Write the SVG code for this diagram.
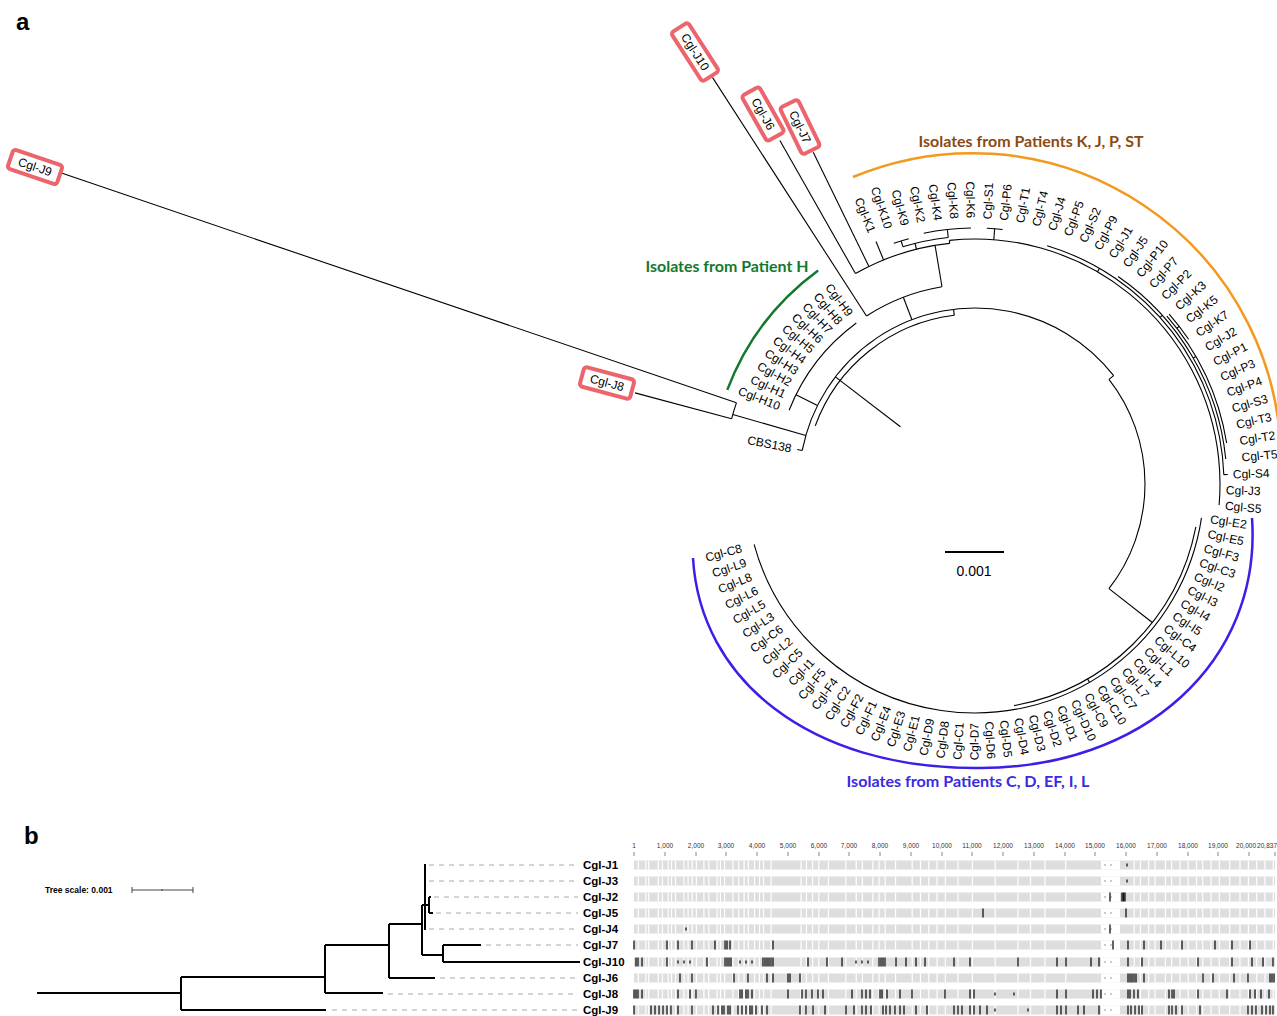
<svg xmlns="http://www.w3.org/2000/svg" width="1277" height="1016" viewBox="0 0 1277 1016">
<defs>
<style>
.lb{font-family:"Liberation Sans",Arial,sans-serif;font-size:12px;fill:#000}
.e{text-anchor:end}
.t line,.t circle{fill:none;stroke:#000;stroke-width:1.1}
.jb rect{fill:#fff;stroke:#ec646c;stroke-width:4}
.jb text{font-family:"Liberation Sans",Arial,sans-serif;font-size:12px;text-anchor:middle}
.ttl{font-family:Lato,"Open Sans",sans-serif;font-weight:bold;font-size:15px;text-anchor:middle}
.bt{stroke:#000;stroke-width:2;fill:none}
.dl{stroke:#aaa;stroke-width:1;stroke-dasharray:5 5;fill:none}
.bl{font-family:"Liberation Sans",Arial,sans-serif;font-weight:bold;font-size:11.5px}
.ax{font-family:"Liberation Sans Narrow","Liberation Sans",sans-serif;font-size:6.5px;fill:#333;text-anchor:middle}
.pl{font-family:"Liberation Sans",Arial,sans-serif;font-weight:bold;font-size:24px}
.bar{fill:#dedede}
.mk{stroke:#111;stroke-width:1.3;fill:none}
</style>
<path id="gp" d="M638.3 0v9M645.8 0v9M648.7 0v9M658.2 0v9M662.4 0v9M668.2 0v9M671.5 0v9M675.6 0v9M684 0v9M688.1 0v9M692.2 0v9M696.4 0v9M703.9 0v9M708.8 0v9M717.1 0v9M720.5 0v9M724.6 0v9M732.9 0v9M738.7 0v9M744.1 0v9M748.3 0v9M754.5 0v9M759.5 0v9M763.6 0v9M771.1 0v9M801 0v9M806.4 0v9M812.6 0v9M818.8 0v9M828.4 0v9M845.8 0v9M856.2 0v9M862.4 0v9M872.8 0v9M879 0v9M885.2 0v9M895.6 0v9M912.2 0v9M920.5 0v9M928.8 0v9M937.1 0v9M945.4 0v9M957.9 0v9M972.4 0v9M995.2 0v9M1018 0v9M1030.5 0v9M1045 0v9M1065.7 0v9M1134.2 0v9M1140.4 0v9M1148.7 0v9M1155 0v9M1165.4 0v9M1171.6 0v9M1179.9 0v9M1188.2 0v9M1196.5 0v9M1202.7 0v9M1211 0v9M1219.3 0v9M1229.7 0v9M1240 0v9M1248.4 0v9M1256.7 0v9M1265 0v9M1273.3 0v9" stroke="#fff" stroke-width="1.2" fill="none"/>
<g id="rowbase"><rect class="bar" x="634" y="0" width="641" height="9"/><use href="#gp"/><rect x="1101" y="0" width="19" height="9" fill="#fff"/><path d="M1104 4.5h2M1110 4.5h2" stroke="#bbb" stroke-width="1.5"/></g>
</defs>
<rect width="1277" height="1016" fill="#fff"/>

<text class="pl" x="16" y="30">a</text>
<text class="pl" x="24" y="844">b</text>

<!-- cluster arcs and titles -->
<g id="cluster-KJPST">
<path d="M853 177A309 309 0 0 1 1281 462" fill="none" stroke="#f39a1e" stroke-width="2.5"/>
<text class="ttl" x="1031" y="147" fill="#8c4a10" textLength="225" lengthAdjust="spacingAndGlyphs">Isolates from Patients K, J, P, ST</text>
</g>
<g id="cluster-H">
<circle cx="975" cy="484" r="265" pathLength="360" stroke-dasharray="32.9 400" transform="rotate(200.8 975 484)" fill="none" stroke="#13782c" stroke-width="2.5"/>
<text class="ttl" x="727" y="272" fill="#13782c" textLength="163" lengthAdjust="spacingAndGlyphs">Isolates from Patient H</text>
</g>
<g id="cluster-CDEFIL">
<path d="M1252 518C1262 660 1145 770 975 768C810 768 700 680 693 558" fill="none" stroke="#3a1fe8" stroke-width="2.5"/>
<text class="ttl" x="968" y="787" fill="#3a2ae0" textLength="243" lengthAdjust="spacingAndGlyphs">Isolates from Patients C, D, EF, I, L</text>
</g>

<!-- circular tree connectors -->
<g id="connectors" class="t" transform="translate(975,484)">
<line x1="94" x2="176" transform="rotate(217.5)"/>
<circle r="176" pathLength="360" stroke-dasharray="131 400" transform="rotate(191)"/>
<circle r="170" pathLength="360" stroke-dasharray="63 400" transform="rotate(200)"/>
<line x1="170" x2="176" transform="rotate(263)"/>
<circle r="170" pathLength="360" stroke-dasharray="76 400" transform="rotate(322)"/>
<line x1="170" x2="176" transform="rotate(322)"/>
<line x1="176" x2="181" transform="rotate(191)"/>
<line x1="176" x2="252" transform="rotate(196)"/>
<circle r="252" pathLength="360" stroke-dasharray="3.8 400" transform="rotate(195)"/>
<line x1="252" x2="352" transform="rotate(195)"/>
<line x1="252" x2="965" transform="rotate(198.8)"/>
<line x1="176" x2="200" transform="rotate(206.5)"/>
<circle r="200" pathLength="360" stroke-dasharray="31.95 400" transform="rotate(201.65)"/>
<line x1="176" x2="200" transform="rotate(249)"/>
<circle r="200" pathLength="360" stroke-dasharray="23.35 400" transform="rotate(237.15)"/>
<line x1="200" x2="484" transform="rotate(237.15)"/>
<line x1="200" x2="242" transform="rotate(260.5)"/>
<circle r="242" pathLength="360" stroke-dasharray="23.6 400" transform="rotate(240.4)"/>
<line x1="242" x2="395" transform="rotate(240.4)"/>
<line x1="242" x2="369" transform="rotate(244)"/>
<line x1="242" x2="262" transform="rotate(247.8)"/>
<line x1="242" x2="248" transform="rotate(256)"/>
<circle r="248" pathLength="360" stroke-dasharray="10.7 400" transform="rotate(253.1)"/>
<line x1="248" x2="254" transform="rotate(253.1)"/>
<circle r="254" pathLength="360" stroke-dasharray="3.55 400" transform="rotate(251.35)"/>
<line x1="248" x2="256" transform="rotate(263.8)"/>
<circle r="256" pathLength="360" stroke-dasharray="10.65 400" transform="rotate(258.45)"/>
<line x1="242" x2="245" transform="rotate(264)"/>
<circle r="245" pathLength="360" stroke-dasharray="100.95 400" transform="rotate(264)"/>
<line x1="245" x2="256" transform="rotate(274.4)"/>
<circle r="256" pathLength="360" stroke-dasharray="3.55 400" transform="rotate(272.65)"/>
<line x1="245" x2="249" transform="rotate(300)"/>
<circle r="249" pathLength="360" stroke-dasharray="71 400" transform="rotate(286.85)"/>
<line x1="249" x2="252" transform="rotate(318)"/>
<circle r="252" pathLength="360" stroke-dasharray="49.7 400" transform="rotate(304.6)"/>
<line x1="252" x2="255" transform="rotate(330)"/>
<circle r="255" pathLength="360" stroke-dasharray="31.95 400" transform="rotate(318.8)"/>
<line x1="255" x2="258" transform="rotate(322.35)"/>
<circle r="258" pathLength="360" stroke-dasharray="7.1 400" transform="rotate(318.8)"/>
<line x1="249" x2="253" transform="rotate(357.85)"/>
<line x1="170" x2="225" transform="rotate(38)"/>
<circle r="225" pathLength="360" stroke-dasharray="69 400" transform="rotate(11)"/>
<line x1="225" x2="229" transform="rotate(60)"/>
<circle r="229" pathLength="360" stroke-dasharray="156.2 400" transform="rotate(8.5)"/>
</g>

<!-- scale bar -->
<g id="scale-a">
<line x1="945" y1="552" x2="1004" y2="552" stroke="#000" stroke-width="2"/>
<text x="974" y="576" font-family="Liberation Sans,Arial,sans-serif" font-size="14" text-anchor="middle">0.001</text>
</g>

<!-- boxed outlier isolates -->
<g id="n-Cgl-J9" class="jb" transform="translate(35,167) rotate(18.6)"><rect x="-26" y="-10" width="52" height="20" rx="3"/><text y="4">Cgl-J9</text></g>
<g id="n-Cgl-J8" class="jb" transform="translate(607,383) rotate(15)"><rect x="-26" y="-10" width="52" height="20" rx="3"/><text y="4">Cgl-J8</text></g>
<g id="n-Cgl-J10" class="jb" transform="translate(695,52) rotate(57.2)"><rect x="-29" y="-10" width="58" height="20" rx="3"/><text y="4">Cgl-J10</text></g>
<g id="n-Cgl-J6" class="jb" transform="translate(763,114) rotate(60.4)"><rect x="-26" y="-10" width="52" height="20" rx="3"/><text y="4">Cgl-J6</text></g>
<g id="n-Cgl-J7" class="jb" transform="translate(800,127) rotate(64)"><rect x="-26" y="-10" width="52" height="20" rx="3"/><text y="4">Cgl-J7</text></g>

<!-- tip labels -->
<g id="tips" class="lb" transform="translate(975,484)">
<g id="n-CBS138"><text class="e" transform="rotate(11)" x="-187" dy=".35em">CBS138</text></g>
<g id="n-Cgl-H10"><text class="e" transform="rotate(21.65)" x="-210" dy=".35em">Cgl-H10</text></g>
<g id="n-Cgl-H1"><text class="e" transform="rotate(25.2)" x="-210" dy=".35em">Cgl-H1</text></g>
<g id="n-Cgl-H2"><text class="e" transform="rotate(28.75)" x="-210" dy=".35em">Cgl-H2</text></g>
<g id="n-Cgl-H3"><text class="e" transform="rotate(32.3)" x="-210" dy=".35em">Cgl-H3</text></g>
<g id="n-Cgl-H4"><text class="e" transform="rotate(35.85)" x="-210" dy=".35em">Cgl-H4</text></g>
<g id="n-Cgl-H5"><text class="e" transform="rotate(39.4)" x="-210" dy=".35em">Cgl-H5</text></g>
<g id="n-Cgl-H6"><text class="e" transform="rotate(42.95)" x="-210" dy=".35em">Cgl-H6</text></g>
<g id="n-Cgl-H7"><text class="e" transform="rotate(46.5)" x="-210" dy=".35em">Cgl-H7</text></g>
<g id="n-Cgl-H8"><text class="e" transform="rotate(50.05)" x="-210" dy=".35em">Cgl-H8</text></g>
<g id="n-Cgl-H9"><text class="e" transform="rotate(53.6)" x="-210" dy=".35em">Cgl-H9</text></g>
<g id="n-Cgl-K1"><text class="e" transform="rotate(67.8)" x="-272" dy=".35em">Cgl-K1</text></g>
<g id="n-Cgl-K10"><text class="e" transform="rotate(71.35)" x="-270" dy=".35em">Cgl-K10</text></g>
<g id="n-Cgl-K9"><text class="e" transform="rotate(74.9)" x="-268" dy=".35em">Cgl-K9</text></g>
<g id="n-Cgl-K2"><text class="e" transform="rotate(78.45)" x="-267" dy=".35em">Cgl-K2</text></g>
<g id="n-Cgl-K4"><text class="e" transform="rotate(82)" x="-266" dy=".35em">Cgl-K4</text></g>
<g id="n-Cgl-K8"><text class="e" transform="rotate(85.55)" x="-266" dy=".35em">Cgl-K8</text></g>
<g id="n-Cgl-K6"><text class="e" transform="rotate(89.1)" x="-266" dy=".35em">Cgl-K6</text></g>
<g id="n-Cgl-S1"><text transform="rotate(-87.35)" x="265" dy=".35em">Cgl-S1</text></g>
<g id="n-Cgl-P6"><text transform="rotate(-83.8)" x="265" dy=".35em">Cgl-P6</text></g>
<g id="n-Cgl-T1"><text transform="rotate(-80.25)" x="265" dy=".35em">Cgl-T1</text></g>
<g id="n-Cgl-T4"><text transform="rotate(-76.7)" x="265" dy=".35em">Cgl-T4</text></g>
<g id="n-Cgl-J4"><text transform="rotate(-73.15)" x="265" dy=".35em">Cgl-J4</text></g>
<g id="n-Cgl-P5"><text transform="rotate(-69.6)" x="265" dy=".35em">Cgl-P5</text></g>
<g id="n-Cgl-S2"><text transform="rotate(-66.05)" x="265" dy=".35em">Cgl-S2</text></g>
<g id="n-Cgl-P9"><text transform="rotate(-62.5)" x="265" dy=".35em">Cgl-P9</text></g>
<g id="n-Cgl-J1"><text transform="rotate(-58.95)" x="265" dy=".35em">Cgl-J1</text></g>
<g id="n-Cgl-J5"><text transform="rotate(-55.4)" x="265" dy=".35em">Cgl-J5</text></g>
<g id="n-Cgl-P10"><text transform="rotate(-51.85)" x="265" dy=".35em">Cgl-P10</text></g>
<g id="n-Cgl-P7"><text transform="rotate(-48.3)" x="265" dy=".35em">Cgl-P7</text></g>
<g id="n-Cgl-P2"><text transform="rotate(-44.75)" x="265" dy=".35em">Cgl-P2</text></g>
<g id="n-Cgl-K3"><text transform="rotate(-41.2)" x="268" dy=".35em">Cgl-K3</text></g>
<g id="n-Cgl-K5"><text transform="rotate(-37.65)" x="268" dy=".35em">Cgl-K5</text></g>
<g id="n-Cgl-K7"><text transform="rotate(-34.1)" x="268" dy=".35em">Cgl-K7</text></g>
<g id="n-Cgl-J2"><text transform="rotate(-30.55)" x="268" dy=".35em">Cgl-J2</text></g>
<g id="n-Cgl-P1"><text transform="rotate(-27)" x="268" dy=".35em">Cgl-P1</text></g>
<g id="n-Cgl-P3"><text transform="rotate(-23.45)" x="268" dy=".35em">Cgl-P3</text></g>
<g id="n-Cgl-P4"><text transform="rotate(-19.9)" x="268" dy=".35em">Cgl-P4</text></g>
<g id="n-Cgl-S3"><text transform="rotate(-16.35)" x="268" dy=".35em">Cgl-S3</text></g>
<g id="n-Cgl-T3"><text transform="rotate(-12.8)" x="268" dy=".35em">Cgl-T3</text></g>
<g id="n-Cgl-T2"><text transform="rotate(-9.25)" x="268" dy=".35em">Cgl-T2</text></g>
<g id="n-Cgl-T5"><text transform="rotate(-5.7)" x="268" dy=".35em">Cgl-T5</text></g>
<g id="n-Cgl-S4"><text transform="rotate(-2.15)" x="258" dy=".35em">Cgl-S4</text></g>
<g id="n-Cgl-J3"><text transform="rotate(1.4)" x="251" dy=".35em">Cgl-J3</text></g>
<g id="n-Cgl-S5"><text transform="rotate(4.95)" x="251" dy=".35em">Cgl-S5</text></g>
<g id="n-Cgl-E2"><text transform="rotate(8.5)" x="238" dy=".35em">Cgl-E2</text></g>
<g id="n-Cgl-E5"><text transform="rotate(12.05)" x="238" dy=".35em">Cgl-E5</text></g>
<g id="n-Cgl-F3"><text transform="rotate(15.6)" x="238" dy=".35em">Cgl-F3</text></g>
<g id="n-Cgl-C3"><text transform="rotate(19.15)" x="238" dy=".35em">Cgl-C3</text></g>
<g id="n-Cgl-I2"><text transform="rotate(22.7)" x="238" dy=".35em">Cgl-I2</text></g>
<g id="n-Cgl-I3"><text transform="rotate(26.25)" x="238" dy=".35em">Cgl-I3</text></g>
<g id="n-Cgl-I4"><text transform="rotate(29.8)" x="238" dy=".35em">Cgl-I4</text></g>
<g id="n-Cgl-I5"><text transform="rotate(33.35)" x="238" dy=".35em">Cgl-I5</text></g>
<g id="n-Cgl-C4"><text transform="rotate(36.9)" x="238" dy=".35em">Cgl-C4</text></g>
<g id="n-Cgl-L10"><text transform="rotate(40.45)" x="238" dy=".35em">Cgl-L10</text></g>
<g id="n-Cgl-L1"><text transform="rotate(44)" x="238" dy=".35em">Cgl-L1</text></g>
<g id="n-Cgl-L4"><text transform="rotate(47.55)" x="238" dy=".35em">Cgl-L4</text></g>
<g id="n-Cgl-L7"><text transform="rotate(51.1)" x="238" dy=".35em">Cgl-L7</text></g>
<g id="n-Cgl-C7"><text transform="rotate(54.65)" x="238" dy=".35em">Cgl-C7</text></g>
<g id="n-Cgl-C10"><text transform="rotate(58.2)" x="238" dy=".35em">Cgl-C10</text></g>
<g id="n-Cgl-C9"><text transform="rotate(61.75)" x="238" dy=".35em">Cgl-C9</text></g>
<g id="n-Cgl-D10"><text transform="rotate(65.3)" x="238" dy=".35em">Cgl-D10</text></g>
<g id="n-Cgl-D1"><text transform="rotate(68.85)" x="238" dy=".35em">Cgl-D1</text></g>
<g id="n-Cgl-D2"><text transform="rotate(72.4)" x="238" dy=".35em">Cgl-D2</text></g>
<g id="n-Cgl-D3"><text transform="rotate(75.95)" x="238" dy=".35em">Cgl-D3</text></g>
<g id="n-Cgl-D4"><text transform="rotate(79.5)" x="238" dy=".35em">Cgl-D4</text></g>
<g id="n-Cgl-D5"><text transform="rotate(83.05)" x="238" dy=".35em">Cgl-D5</text></g>
<g id="n-Cgl-D6"><text transform="rotate(86.6)" x="238" dy=".35em">Cgl-D6</text></g>
<g id="n-Cgl-D7"><text class="e" transform="rotate(-89.85)" x="-239" dy=".35em">Cgl-D7</text></g>
<g id="n-Cgl-C1"><text class="e" transform="rotate(-86.3)" x="-239" dy=".35em">Cgl-C1</text></g>
<g id="n-Cgl-D8"><text class="e" transform="rotate(-82.75)" x="-239" dy=".35em">Cgl-D8</text></g>
<g id="n-Cgl-D9"><text class="e" transform="rotate(-79.2)" x="-239" dy=".35em">Cgl-D9</text></g>
<g id="n-Cgl-E1"><text class="e" transform="rotate(-75.65)" x="-239" dy=".35em">Cgl-E1</text></g>
<g id="n-Cgl-E3"><text class="e" transform="rotate(-72.1)" x="-239" dy=".35em">Cgl-E3</text></g>
<g id="n-Cgl-E4"><text class="e" transform="rotate(-68.55)" x="-239" dy=".35em">Cgl-E4</text></g>
<g id="n-Cgl-F1"><text class="e" transform="rotate(-65)" x="-240" dy=".35em">Cgl-F1</text></g>
<g id="n-Cgl-F2"><text class="e" transform="rotate(-61.45)" x="-240" dy=".35em">Cgl-F2</text></g>
<g id="n-Cgl-C2"><text class="e" transform="rotate(-57.9)" x="-240" dy=".35em">Cgl-C2</text></g>
<g id="n-Cgl-F4"><text class="e" transform="rotate(-54.35)" x="-240" dy=".35em">Cgl-F4</text></g>
<g id="n-Cgl-F5"><text class="e" transform="rotate(-50.8)" x="-240" dy=".35em">Cgl-F5</text></g>
<g id="n-Cgl-I1"><text class="e" transform="rotate(-47.25)" x="-240" dy=".35em">Cgl-I1</text></g>
<g id="n-Cgl-C5"><text class="e" transform="rotate(-43.7)" x="-241" dy=".35em">Cgl-C5</text></g>
<g id="n-Cgl-L2"><text class="e" transform="rotate(-40.15)" x="-241" dy=".35em">Cgl-L2</text></g>
<g id="n-Cgl-C6"><text class="e" transform="rotate(-36.6)" x="-241" dy=".35em">Cgl-C6</text></g>
<g id="n-Cgl-L3"><text class="e" transform="rotate(-33.05)" x="-241" dy=".35em">Cgl-L3</text></g>
<g id="n-Cgl-L5"><text class="e" transform="rotate(-29.5)" x="-242" dy=".35em">Cgl-L5</text></g>
<g id="n-Cgl-L6"><text class="e" transform="rotate(-25.95)" x="-242" dy=".35em">Cgl-L6</text></g>
<g id="n-Cgl-L8"><text class="e" transform="rotate(-22.4)" x="-242" dy=".35em">Cgl-L8</text></g>
<g id="n-Cgl-L9"><text class="e" transform="rotate(-18.85)" x="-242" dy=".35em">Cgl-L9</text></g>
<g id="n-Cgl-C8"><text class="e" transform="rotate(-15.3)" x="-242" dy=".35em">Cgl-C8</text></g>
</g>

<!-- panel b -->
<g id="tree-scale-b">
<text x="45" y="893" font-family="Liberation Sans,Arial,sans-serif" font-weight="bold" font-size="8.5">Tree scale: 0.001</text>
<path d="M132 890H193M132 887v6M193 887v6M162 889v2" stroke="#444" stroke-width="1" fill="none"/>
</g>
<g id="connectors-b">
<path class="bt" d="M37 993H181M181 977V1010M181 977H325M181 1010H326M325 945V993M325 993H383M325 945H389M389 924V978M389 978H435M389 924H422M422 905V955M422 905H425M425 864V930M425 905H429M429 897V913M429 897H431M429 913H433M422 955H443M443 945V962M443 945H481M443 962H580"/>
<path class="dl" d="M429 865H578M429 881H578M434 897H578M436 913H578M429 929H578M486 945H578M440 978H578M388 994H578M332 1010H578"/>
</g>
<g class="bl">
<g id="b-Cgl-J1"><text x="583" y="869">Cgl-J1</text></g>
<g id="b-Cgl-J3"><text x="583" y="885">Cgl-J3</text></g>
<g id="b-Cgl-J2"><text x="583" y="901">Cgl-J2</text></g>
<g id="b-Cgl-J5"><text x="583" y="917">Cgl-J5</text></g>
<g id="b-Cgl-J4"><text x="583" y="933">Cgl-J4</text></g>
<g id="b-Cgl-J7"><text x="583" y="949">Cgl-J7</text></g>
<g id="b-Cgl-J10"><text x="583" y="966">Cgl-J10</text></g>
<g id="b-Cgl-J6"><text x="583" y="982">Cgl-J6</text></g>
<g id="b-Cgl-J8"><text x="583" y="998">Cgl-J8</text></g>
<g id="b-Cgl-J9"><text x="583" y="1014">Cgl-J9</text></g>
</g>

<!-- alignment axis -->
<g id="axis">
<g class="ax">
<text x="634" y="848">1</text><text x="665" y="848">1,000</text><text x="696" y="848">2,000</text><text x="726" y="848">3,000</text><text x="757" y="848">4,000</text><text x="788" y="848">5,000</text><text x="819" y="848">6,000</text><text x="849" y="848">7,000</text><text x="880" y="848">8,000</text><text x="911" y="848">9,000</text><text x="942" y="848">10,000</text><text x="972" y="848">11,000</text><text x="1003" y="848">12,000</text><text x="1034" y="848">13,000</text><text x="1065" y="848">14,000</text><text x="1095" y="848">15,000</text><text x="1126" y="848">16,000</text><text x="1157" y="848">17,000</text><text x="1188" y="848">18,000</text><text x="1218" y="848">19,000</text><text x="1256" y="848" text-anchor="end">20,000</text><text x="1277" y="848" text-anchor="end">20,837</text>
</g>
<path d="M634 852v4M665 852v4M696 852v4M726 852v4M757 852v4M788 852v4M819 852v4M849 852v4M880 852v4M911 852v4M942 852v4M972 852v4M1003 852v4M1034 852v4M1065 852v4M1095 852v4M1126 852v4M1157 852v4M1188 852v4M1218 852v4M1249 852v4M1275 852v4" stroke="#666" stroke-width="0.8"/>
</g>

<!-- alignment rows -->
<g id="alignment">
<g transform="translate(0,860.5)"><use href="#rowbase"/><path class="mk" d="M1127 3v3"/></g>
<g transform="translate(0,876.5)"><use href="#rowbase"/><path class="mk" d="M1127 3v3"/></g>
<g transform="translate(0,892.5)"><use href="#rowbase"/><path class="mk" d="M1110 0v9M1122 0v9M1123.5 0v9M1125 0v9"/></g>
<g transform="translate(0,908.5)"><use href="#rowbase"/><path class="mk" d="M983 0v9" stroke="#777"/><path class="mk" d="M1126 0v9"/></g>
<g transform="translate(0,924.5)"><use href="#rowbase"/><path class="mk" d="M686 3v3M1110 0v9"/></g>
<g transform="translate(0,940.5)"><use href="#rowbase"/><path class="mk" d="M634 0v9M667 0v9M678 0v9M692 0v9M715 0v9M725 0v9M727 0v9M730 0v9M773 0v9M1113 0v9M1128 0v9M1144 0v9M1161 0v9M1182 0v9M1215 0v9M1232 0v9M1250 0v9"/></g>
<g transform="translate(0,957.5)"><use href="#rowbase"/><path class="mk" d="M636 0v9M638 0v9M642 0v9M667 0v9M678 3v3M684 3v3M690 3v3M707 0v9M725 0v9M727 0v9M729 0v9M731 0v9M740 3v3M746 3v3M752 3v3M763 0v9M765 0v9M767 0v9M769 0v9M771 0v9M773 0v9M808 0v9M827 0v9M842 0v9M856 3v3M862 3v3M868 3v3M879 0v9M881 0v9M883 0v9M885 0v9M896 0v9M906 0v9M916 0v9M925 0v9M954 0v9M970 0v9M1018 0v9M1057 0v9M1066 0v9M1091 0v9M1099 0v9M1128 0v9M1142 0v9M1198 0v9M1232 0v9M1252 0v9M1263 0v9M1273 0v9"/></g>
<g transform="translate(0,973.5)"><use href="#rowbase"/><path class="mk" d="M680 0v9M692 0v9M734 0v9M748 0v9M767 0v9M773 0v9M788 0v9M790 0v9M800 0v9M1128 0v9M1130 0v9M1132 0v9M1134 0v9M1136 0v9M1144 0v9M1203 0v9M1213 0v9M1234 0v9M1248 0v9M1270 0v9M1272 0v9M1274 0v9"/></g>
<g transform="translate(0,989.5)"><use href="#rowbase"/><path class="mk" d="M634 0v9M636 0v9M638 0v9M642 0v9M678 0v9M690 0v9M696 0v9M740 0v9M742 0v9M746 0v9M748 0v9M752 0v9M788 0v9M802 0v9M806 0v9M812 0v9M818 0v9M823 0v9M852 0v9M862 0v9M866 0v9M870 0v9M880 0v9M882 0v9M887 0v9M900 0v9M912 0v9M945 0v9M970 0v9M974 0v9M995 3v3M1014 3v3M1057 0v9M1066 0v9M1093 0v9M1097 0v9M1101 0v9M1128 0v9M1130 0v9M1134 0v9M1138 0v9M1169 0v9M1172 0v9M1174 0v9M1198 0v9M1227 0v9M1250 0v9M1255 0v9M1261 0v9M1269 0v9"/></g>
<g transform="translate(0,1005.5)"><use href="#rowbase"/><path class="mk" d="M634 0v9M651 0v9M655 0v9M659 0v9M663 0v9M667 0v9M671 0v9M678 0v9M692 0v9M713 0v9M718 0v9M722 0v9M724 0v9M728 0v9M730 0v9M738 0v9M742 0v9M746 0v9M750 0v9M752 0v9M756 0v9M762 0v9M767 0v9M800 0v9M806 0v9M813 0v9M825 0v9M846 0v9M854 0v9M862 0v9M866 0v9M871 0v9M883 0v9M886 0v9M890 0v9M895 0v9M900 0v9M904 0v9M916 0v9M927 0v9M954 0v9M958 0v9M962 0v9M970 0v9M974 0v9M980 0v9M987 0v9M995 3v3M1028 3v3M1057 0v9M1061 0v9M1066 0v9M1078 0v9M1084 0v9M1099 0v9M1128 0v9M1131 0v9M1135 0v9M1139 0v9M1142 0v9M1169 0v9M1172 0v9M1176 0v9M1182 0v9M1200 0v9M1248 0v9M1252 0v9M1256 0v9M1262 0v9M1266 0v9M1270 0v9M1273 0v9"/></g>
</g>
</svg>
